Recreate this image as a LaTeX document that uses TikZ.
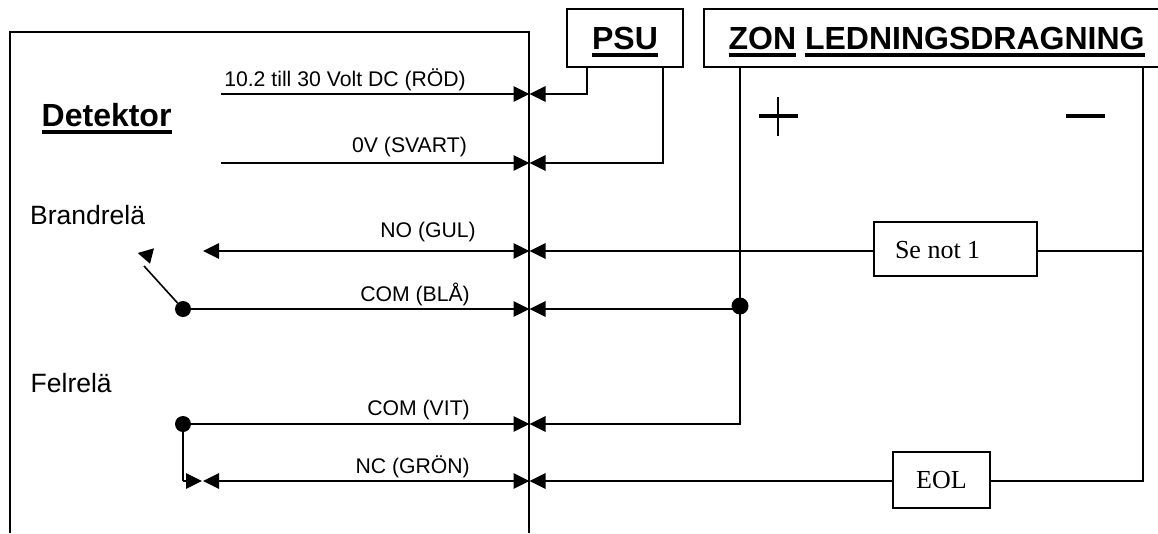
\documentclass[tikz,border=0pt]{standalone}
\usepackage{fontspec}
\setmainfont{Liberation Sans}
\newfontfamily\serifbox{Liberation Serif}
\usetikzlibrary{arrows.meta}

\newcommand{\thickul}[1]{\setbox0\hbox{#1}\rlap{\rule[-7.7pt]{\wd0}{4.2pt}}\box0\relax}

\tikzset{
    wire/.style={line width=1.6pt},
    tip/.style={-{Triangle[length=16pt,width=15.5pt]}},
    tips/.style={{Triangle[length=16pt,width=15.5pt]}-{Triangle[length=16pt,width=15.5pt]}},
    dot/.style={circle,fill=black,draw=none,inner sep=0pt,minimum size=16pt},
    headbox/.style={draw,line width=1.6pt,outer sep=0pt,inner ysep=0pt,font=\bfseries\fontsize{32}{36}\selectfont,text height=22.6pt,text depth=0pt},
    partbox/.style={draw,fill=white,line width=1.6pt,outer sep=0pt,inner ysep=0pt,font=\serifbox\fontsize{26}{28}\selectfont,text depth=0pt},
    lbl/.style={anchor=base east,inner sep=0pt,font=\fontsize{21.2}{24}\selectfont},
    relaylbl/.style={anchor=base west,inner sep=0pt,font=\fontsize{26.5}{28}\selectfont},
}

\begin{document}
\begin{tikzpicture}[x=1pt,y=-1pt]
        \useasboundingbox (0,0) rectangle (1158,533);
        \begin{scope}
            % detector outline, open at the bottom
            \draw[wire] (10,533) -- (10,32) -- (529,32) -- (529,533);

            \node[relaylbl,font=\bfseries\fontsize{32}{36}\selectfont] (detektor) at (41.5,126.7) {\thickul{Detektor}};
            \node[relaylbl] (brand) at (30,224) {Brandrelä};
            \node[relaylbl] (fel) at (30.5,392.7) {Felrelä};

            \node[headbox,minimum width=116pt,minimum height=58pt] (psu) at (625,38) {\thickul{PSU}};
            \node[headbox,anchor=north west,text width=430pt,inner xsep=24.6pt,align=flush left,minimum height=58pt] (zon) at (704,9) {\thickul{ZON} \thickul{LEDNINGSDRAGNING}};

            \coordinate (psuplus) at (587,67);
            \coordinate (psuzero) at (663,67);
            \coordinate (zonplus) at (740,67);
            \coordinate (zonminus) at (1143,67);

            \coordinate (wallrod) at (529.5,94);
            \coordinate (wallsvart) at (529.5,163);
            \coordinate (wallgul) at (529.5,251);
            \coordinate (wallbla) at (529.5,309);
            \coordinate (wallvit) at (529.5,424);
            \coordinate (wallgron) at (529.5,481);

            \coordinate (startrod) at (221,94);
            \coordinate (startsvart) at (221,163);
            \coordinate (startgul) at (203,251);
            \coordinate (startgron) at (203,481);
            \coordinate (felbend) at (183,481);
            \coordinate (feltip) at (202,481);
            \coordinate (swing) at (144,266);
            \coordinate (railgul) at (1143,251);
            \coordinate (railgron) at (1143,481);
            \coordinate (plusvit) at (740,424);

            \node[dot] (relaybrand) at (183,309) {};
            \node[dot] (relayfel) at (183,424) {};
            \node[dot,minimum size=17pt] (junction) at (740,306) {};

            \node[partbox,anchor=north west,text width=121pt,inner xsep=21pt,align=flush left,minimum height=54pt,text height=18pt] (senot) at (874,222) {Se not 1};
            \node[partbox,minimum width=97pt,minimum height=56pt,text height=16pt] (eol) at (941.5,480) {EOL};

            % inside the detector
            \draw[wire,tip] (startrod) -- (wallrod);
            \draw[wire,tip] (startsvart) -- (wallsvart);
            \draw[wire,tips] (startgul) -- (wallgul);
            \draw[wire,tip] (relaybrand) -- (wallbla);
            \draw[wire,tip] (relayfel) -- (wallvit);
            \draw[wire,tips] (startgron) -- (wallgron);
            \draw[wire] (relayfel) -- (felbend);
            \draw[wire,tip] (felbend) -- (feltip);

            \draw[wire] (relaybrand) -- (swing);
            \fill (137.7,253) -- (154,248.3) -- (150,263.7) -- cycle;

            % outside the detector
            \draw[wire,tip] (psuplus) |- (wallrod);
            \draw[wire,tip] (psuzero) |- (wallsvart);
            \draw[wire,tip] (senot.west |- wallgul) -- (wallgul);
            \draw[wire,tip] (junction) -- (junction |- wallbla) -- (wallbla);
            \draw[wire,tip] (zonplus) -- (plusvit) -- (wallvit);
            \draw[wire,tip] (eol.west |- wallgron) -- (wallgron);
            \draw[wire] (senot.east |- railgul) -- (railgul);
            \draw[wire] (eol.east |- railgron) -- (railgron) -- (zonminus);

            \draw[line width=3.4pt] (759,116) -- (798,116);
            \draw[line width=2.4pt] (778,97) -- (778,136);
            \draw[line width=3.4pt] (1066,116) -- (1105,116);

            \node[lbl] (rod) at (466,86) {10.2 till 30 Volt DC (RÖD)};
            \node[lbl] (svart) at (467,152.7) {0V (SVART)};
            \node[lbl] (gul) at (476,237) {NO (GUL)};
            \node[lbl] (bla) at (470,301.7) {COM (BLÅ)};
            \node[lbl] (vit) at (470,415) {COM (VIT)};
            \node[lbl] (gron) at (470,473) {NC (GRÖN)};
        \end{scope}
    \end{tikzpicture}
\end{document}
